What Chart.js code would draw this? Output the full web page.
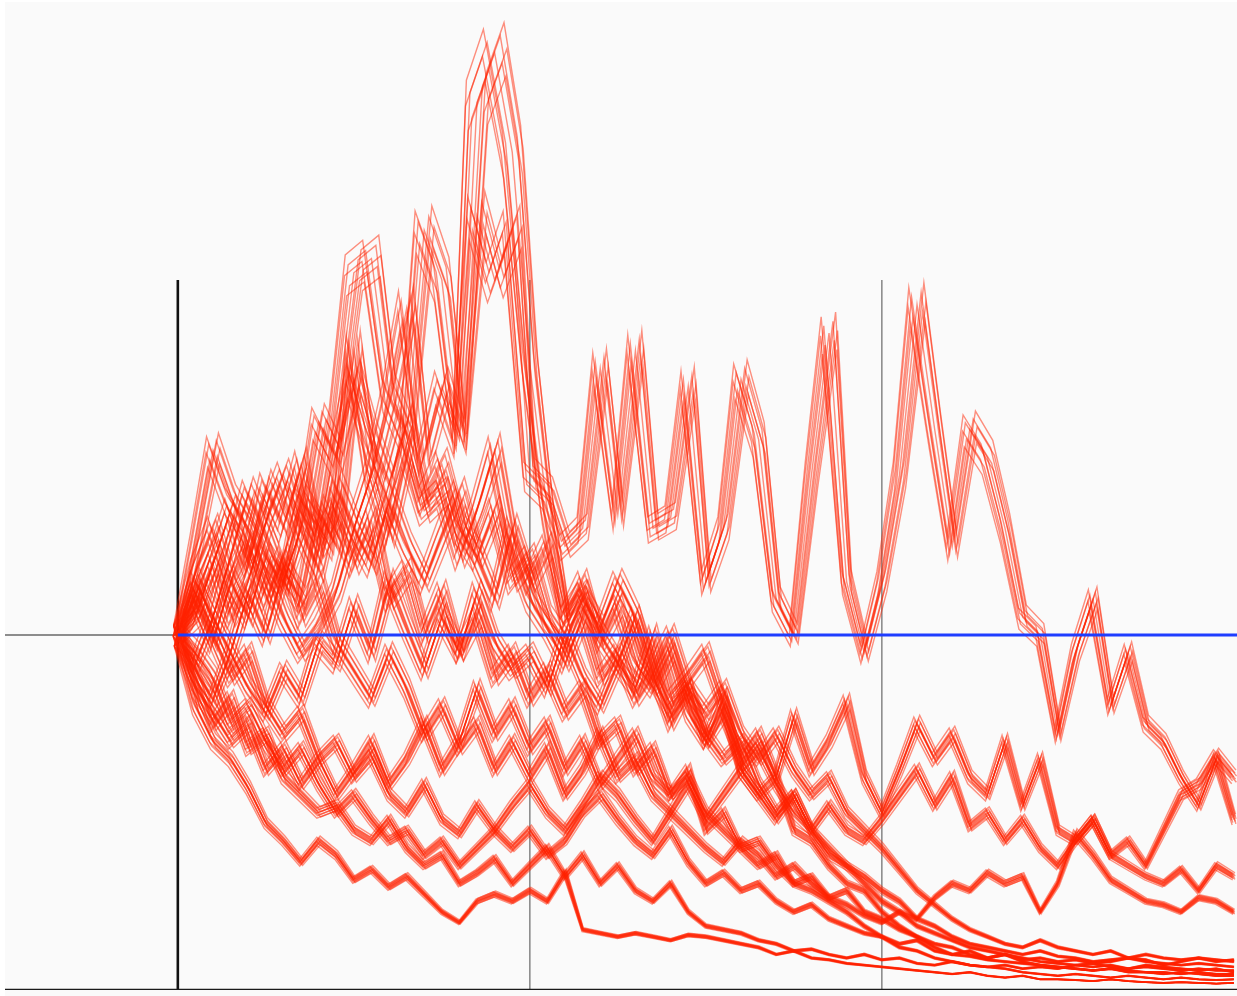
<!DOCTYPE html>
<html>
<head>
<meta charset="utf-8">
<script src="https://cdn.jsdelivr.net/npm/chart.js@4/dist/chart.umd.min.js"></script>
<style>
  html, body { margin: 0; padding: 0; background: #ffffff; overflow: hidden; }
  canvas { display: block; }
</style>
</head>
<body>
<canvas id="paths" width="1237" height="996"></canvas>
<script>
// time grid (shared by every path)
const T = [
  0.00, 0.05, 0.10, 0.15, 0.20, 0.25, 0.30, 0.35, 0.40, 0.45,
  0.50, 0.55, 0.60, 0.65, 0.70, 0.75, 0.80, 0.85, 0.90, 0.95,
  1.00, 1.05, 1.10, 1.15, 1.20, 1.25, 1.30, 1.35, 1.40, 1.45,
  1.50, 1.55, 1.60, 1.65, 1.70, 1.75, 1.80, 1.85, 1.90, 1.95,
  2.00, 2.05, 2.10, 2.15, 2.20, 2.25, 2.30, 2.35, 2.40, 2.45,
  2.50, 2.55, 2.60, 2.65, 2.70, 2.75, 2.80, 2.85, 2.90, 2.95,
  3.00
];

// simulated paths
const path1 = [
  1.00, 1.10, 0.98, 1.15, 1.05, 1.22, 1.14, 1.38, 1.30, 1.60,
  2.02, 2.06, 1.68, 1.56, 2.14, 2.00, 1.56, 2.50, 2.64, 2.36,
  1.76, 1.35, 1.05, 1.15, 0.98, 1.08, 0.92, 0.85, 0.95, 0.78,
  0.70, 0.82, 0.62, 0.55, 0.60, 0.45, 0.42, 0.35, 0.30, 0.28,
  0.22, 0.18, 0.15, 0.13, 0.12, 0.10, 0.09, 0.10, 0.08, 0.07,
  0.065, 0.06, 0.055, 0.06, 0.05, 0.05, 0.045, 0.05, 0.045, 0.04,
  0.04
];
const path2 = [
  1.00, 0.92, 1.05, 0.95, 1.12, 1.00, 1.18, 1.10, 1.35, 1.25,
  1.80, 1.45, 1.66, 1.92, 1.50, 1.70, 1.55, 2.18, 2.00, 2.14,
  1.45, 1.40, 1.25, 1.30, 1.75, 1.34, 1.80, 1.30, 1.33, 1.70,
  1.15, 1.30, 1.72, 1.55, 1.10, 1.00, 1.45, 1.85, 1.15, 0.95,
  1.15, 1.45, 1.93, 1.58, 1.25, 1.58, 1.50, 1.30, 1.05, 1.00,
  0.72, 0.95, 1.10, 0.80, 0.95, 0.75, 0.70, 0.60, 0.52, 0.65,
  0.48
];
const path3 = [
  1.00, 1.25, 1.52, 1.38, 1.30, 1.18, 1.05, 0.95, 1.02, 1.12,
  1.30, 1.45, 1.28, 1.52, 1.35, 1.40, 1.22, 1.35, 1.52, 1.25,
  1.10, 1.02, 0.92, 1.05, 0.88, 0.95, 0.82, 0.90, 0.75, 0.85,
  0.70, 0.78, 0.65, 0.72, 0.60, 0.77, 0.62, 0.70, 0.81, 0.60,
  0.50, 0.62, 0.75, 0.65, 0.72, 0.60, 0.55, 0.70, 0.52, 0.65,
  0.45, 0.42, 0.48, 0.38, 0.42, 0.35, 0.45, 0.55, 0.58, 0.66,
  0.60
];
const path4 = [
  1.00, 0.90, 0.82, 0.95, 0.85, 0.78, 0.90, 0.82, 0.98, 0.92,
  1.08, 0.95, 1.15, 1.02, 0.90, 1.05, 0.95, 1.12, 0.98, 0.90,
  0.95, 0.85, 1.00, 0.88, 0.80, 0.92, 0.85, 1.00, 0.82, 0.88,
  0.95, 0.80, 0.62, 0.55, 0.48, 0.55, 0.45, 0.52, 0.45, 0.42,
  0.48, 0.55, 0.62, 0.52, 0.60, 0.46, 0.50, 0.42, 0.48, 0.40,
  0.35, 0.42, 0.48, 0.38, 0.35, 0.32, 0.30, 0.34, 0.28, 0.35,
  0.32
];
const path5 = [
  1.00, 0.85, 0.78, 0.70, 0.75, 0.62, 0.68, 0.58, 0.65, 0.55,
  0.62, 0.70, 0.58, 0.65, 0.75, 0.62, 0.70, 0.85, 0.72, 0.80,
  0.68, 0.75, 0.62, 0.70, 0.58, 0.65, 0.72, 0.60, 0.55, 0.62,
  0.45, 0.50, 0.40, 0.35, 0.38, 0.30, 0.32, 0.26, 0.24, 0.21,
  0.19, 0.22, 0.20, 0.26, 0.30, 0.28, 0.33, 0.30, 0.32, 0.22,
  0.30, 0.44, 0.38, 0.31, 0.28, 0.25, 0.24, 0.22, 0.26, 0.25,
  0.22
];
const path6 = [
  1.00, 0.80, 0.70, 0.65, 0.57, 0.47, 0.42, 0.36, 0.42, 0.38,
  0.31, 0.34, 0.29, 0.32, 0.27, 0.22, 0.19, 0.25, 0.27, 0.25,
  0.28, 0.25, 0.33, 0.17, 0.16, 0.15, 0.16, 0.15, 0.14, 0.155,
  0.15, 0.14, 0.13, 0.12, 0.10, 0.11, 0.09, 0.085, 0.075, 0.07,
  0.065, 0.06, 0.055, 0.05, 0.045, 0.05, 0.04, 0.035, 0.04, 0.03,
  0.03, 0.028, 0.025, 0.03, 0.025, 0.022, 0.02, 0.022, 0.02, 0.018,
  0.02
];
const path7 = [
  1.00, 0.88, 0.75, 0.82, 0.68, 0.72, 0.60, 0.55, 0.50, 0.52,
  0.45, 0.42, 0.48, 0.40, 0.35, 0.38, 0.30, 0.33, 0.37, 0.30,
  0.35, 0.40, 0.32, 0.38, 0.30, 0.35, 0.28, 0.25, 0.30, 0.22,
  0.18, 0.17, 0.16, 0.14, 0.13, 0.11, 0.115, 0.10, 0.09, 0.10,
  0.085, 0.09, 0.075, 0.07, 0.08, 0.07, 0.065, 0.07, 0.06, 0.065,
  0.06, 0.07, 0.075, 0.065, 0.06, 0.07, 0.065, 0.06, 0.055, 0.06,
  0.05
];
const path8 = [
  1.00, 1.12, 1.00, 0.88, 0.95, 0.80, 0.72, 0.78, 0.65, 0.70,
  0.60, 0.66, 0.55, 0.50, 0.58, 0.48, 0.44, 0.52, 0.45, 0.40,
  0.45, 0.38, 0.42, 0.50, 0.55, 0.48, 0.42, 0.38, 0.45, 0.36,
  0.30, 0.33, 0.28, 0.30, 0.25, 0.22, 0.24, 0.20, 0.18, 0.16,
  0.15, 0.13, 0.14, 0.11, 0.10, 0.11, 0.09, 0.10, 0.085, 0.09,
  0.08, 0.085, 0.075, 0.08, 0.09, 0.085, 0.07, 0.08, 0.09, 0.085,
  0.08
];
const path9 = [
  1.00, 1.18, 1.30, 1.15, 1.25, 1.10, 1.22, 1.05, 1.15, 0.98,
  0.90, 0.82, 0.95, 0.85, 0.72, 0.80, 0.68, 0.75, 0.62, 0.70,
  0.60, 0.68, 0.55, 0.62, 0.72, 0.60, 0.65, 0.55, 0.50, 0.58,
  0.48, 0.55, 0.62, 0.68, 0.58, 0.50, 0.45, 0.40, 0.35, 0.32,
  0.28, 0.25, 0.20, 0.18, 0.15, 0.13, 0.12, 0.11, 0.10, 0.11,
  0.095, 0.09, 0.08, 0.085, 0.09, 0.08, 0.075, 0.07, 0.075, 0.07,
  0.065
];
const path10 = [
  1.00, 1.05, 1.20, 1.35, 1.20, 1.42, 1.30, 1.48, 1.25, 1.35,
  1.20, 1.32, 1.10, 1.18, 1.00, 1.12, 0.95, 1.05, 0.88, 0.95,
  0.82, 0.90, 0.78, 0.85, 0.70, 0.75, 0.62, 0.68, 0.55, 0.60,
  0.50, 0.45, 0.40, 0.42, 0.35, 0.30, 0.28, 0.25, 0.22, 0.18,
  0.15, 0.12, 0.11, 0.09, 0.08, 0.07, 0.065, 0.06, 0.05, 0.045,
  0.04, 0.045, 0.04, 0.035, 0.04, 0.035, 0.03, 0.035, 0.03, 0.028,
  0.03
];
const path11 = [
  1.00, 1.15, 1.05, 1.22, 1.40, 1.28, 1.15, 1.30, 1.18, 1.42,
  1.30, 1.20, 1.38, 1.25, 1.15, 1.28, 1.40, 1.22, 1.10, 1.30,
  1.15, 1.25, 1.05, 1.12, 1.00, 0.92, 1.05, 0.88, 0.78, 0.85,
  0.72, 0.65, 0.70, 0.58, 0.50, 0.55, 0.45, 0.38, 0.35, 0.30,
  0.25, 0.22, 0.18, 0.16, 0.14, 0.12, 0.11, 0.10, 0.09, 0.08,
  0.075, 0.07, 0.065, 0.07, 0.06, 0.065, 0.06, 0.055, 0.06, 0.055,
  0.055
];
const path12 = [
  1.00, 0.95, 0.88, 0.75, 0.80, 0.70, 0.62, 0.68, 0.58, 0.50,
  0.55, 0.48, 0.42, 0.45, 0.38, 0.42, 0.35, 0.40, 0.45, 0.52,
  0.58, 0.50, 0.45, 0.52, 0.60, 0.55, 0.48, 0.42, 0.50, 0.45,
  0.40, 0.36, 0.42, 0.38, 0.32, 0.35, 0.30, 0.26, 0.28, 0.22,
  0.20, 0.17, 0.15, 0.12, 0.10, 0.095, 0.085, 0.08, 0.075, 0.07,
  0.065, 0.06, 0.055, 0.06, 0.055, 0.05, 0.05, 0.045, 0.05, 0.045,
  0.045
];
const path13 = [
  1.00, 1.08, 1.20, 1.05, 1.15, 1.32, 1.45, 1.30, 1.60, 1.50,
  1.72, 1.55, 1.42, 1.60, 1.38, 1.48, 1.30, 1.22, 1.35, 1.15,
  1.22, 1.05, 0.98, 1.10, 1.02, 1.15, 1.05, 0.90, 1.00, 0.85,
  0.78, 0.85, 0.72, 0.65, 0.72, 0.62, 0.55, 0.60, 0.50, 0.45,
  0.40, 0.34, 0.28, 0.24, 0.20, 0.17, 0.15, 0.13, 0.12, 0.14,
  0.12, 0.11, 0.10, 0.11, 0.09, 0.10, 0.09, 0.085, 0.09, 0.08,
  0.085
];
const allPaths = [path1, path2, path3, path4, path5, path6, path7,
                  path8, path9, path10, path11, path12, path13];

// reference level and frame
const LEVEL = 1;
const X_MIN = -0.491, X_MAX = 3.009;
const Y_MIN = 0, Y_MAX = 2.777;
const GRID_X = [1, 2];
const GRID_TOP = 2;

// noise band: each path is stroked again, stretched and sheared about the
// zero line, so the band gets wider the higher the path runs
const SPREAD = [
  [-0.032, 0.010], [-0.025, -0.012], [-0.018, 0.006], [-0.011, -0.008],
  [-0.004, 0.013], [0.004, -0.013], [0.011, 0.008], [0.018, -0.006],
  [0.025, 0.012], [0.032, -0.010]
];

const noiseBand = {
  id: "noiseBand",
  beforeDatasetDraw(chart, args) {
    if (!chart.data.datasets[args.index].noisy) return;
    const c = chart.ctx;
    const y0 = chart.scales.y.getPixelForValue(0);
    const line = args.meta.dataset;
    SPREAD.forEach(([s, k]) => {
      c.save();
      c.translate(0, y0);
      c.transform(1, 0, k, 1 + s, 0, 0);
      c.translate(0, -y0);
      line.draw(c, chart.chartArea);
      c.restore();
    });
  }
};

const datasets = [];

// the mean level line (blue) on top
datasets.push({
  data: [{ x: 0, y: LEVEL }, { x: X_MAX, y: LEVEL }],
  borderColor: "#1f3dff", borderWidth: 3, order: 0
});

allPaths.forEach(vals => {
  datasets.push({
    noisy: true,
    data: vals.map((v, i) => ({ x: T[i], y: v })),
    borderColor: "rgba(255,34,0,0.5)",
    borderWidth: 1.4,
    order: 1
  });
});

// frame lines drawn underneath
datasets.push({
  data: [{ x: X_MIN, y: LEVEL }, { x: X_MAX, y: LEVEL }],
  borderColor: "#8c8c8c", borderWidth: 2, order: 2
});
GRID_X.forEach(g => datasets.push({
  data: [{ x: g, y: 0 }, { x: g, y: GRID_TOP }],
  borderColor: "#8c8c8c", borderWidth: 1.6, order: 2
}));
datasets.push({
  data: [{ x: 0, y: 0 }, { x: 0, y: GRID_TOP }],
  borderColor: "#111111", borderWidth: 2.6, order: 2
});
datasets.push({
  data: [{ x: X_MIN, y: 0 }, { x: X_MAX, y: 0 }],
  borderColor: "#1a1a1a", borderWidth: 2.6, order: 0
});

const panelBg = {
  id: "panelBg",
  beforeDraw(chart) {
    const c = chart.ctx;
    c.save();
    c.fillStyle = "#fafafa";
    c.fillRect(chart.chartArea.left, 2, chart.width - chart.chartArea.left, chart.height - 2);
    c.restore();
  }
};

new Chart(document.getElementById("paths"), {
  type: "line",
  data: { datasets },
  plugins: [panelBg, noiseBand],
  options: {
    responsive: false,
    animation: false,
    layout: { padding: { left: 5, top: 4, right: 0, bottom: 6 } },
    elements: { point: { radius: 0 }, line: { tension: 0 } },
    plugins: { legend: { display: false }, tooltip: { enabled: false } },
    scales: {
      x: { type: "linear", min: X_MIN, max: X_MAX, display: false },
      y: { type: "linear", min: Y_MIN, max: Y_MAX, display: false }
    }
  }
});
</script>
</body>
</html>
